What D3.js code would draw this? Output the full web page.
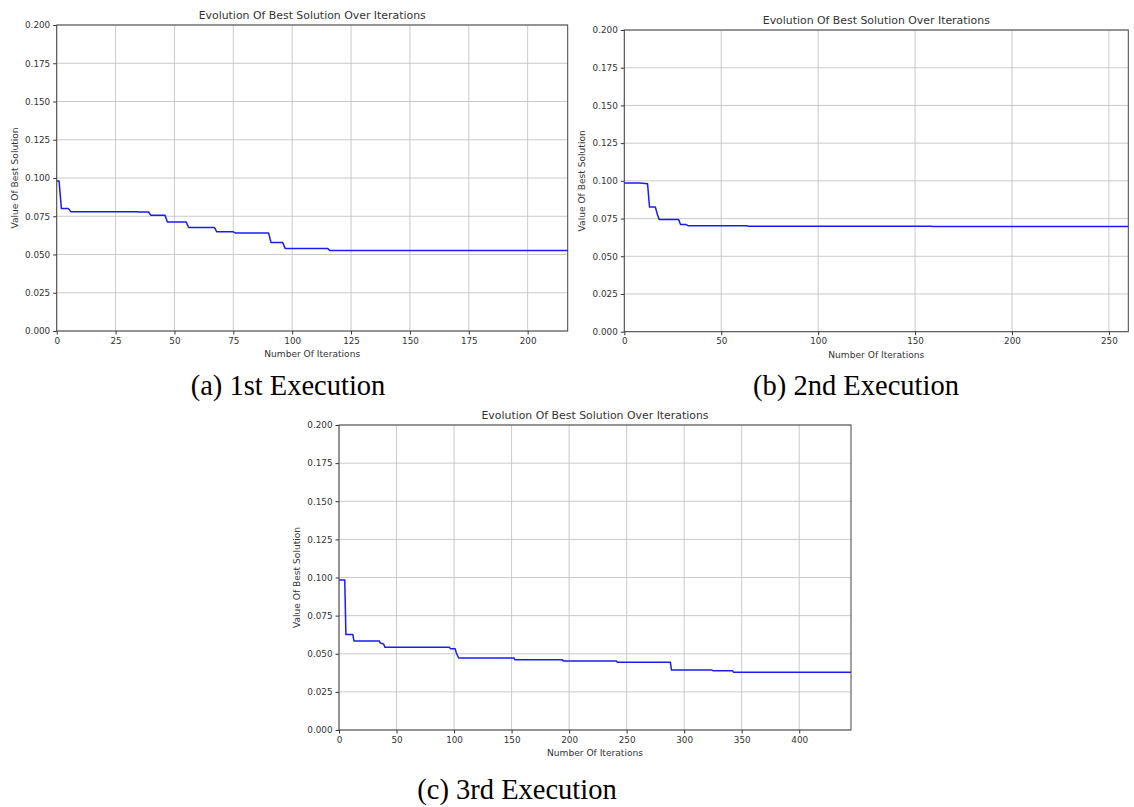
<!DOCTYPE html>
<html>
<head>
<meta charset="utf-8">
<script src="https://cdn.jsdelivr.net/npm/d3@7"></script>
<style>
  body { margin: 0; background: #fff; }
  svg { display: block; }
</style>
</head>
<body>
<svg id="chart" width="1134" height="807"></svg>
<script>
// ---- Data (vertices of the best-solution curve) ----
const iterA = [0, 1, 2, 5, 6, 34, 35, 39, 40, 46, 47, 55, 56, 67, 68, 75, 76, 90, 91, 96, 97, 115, 116, 217];
const valA  = [0.098, 0.098, 0.080, 0.080, 0.078, 0.078, 0.0778, 0.0778, 0.0756, 0.0756, 0.0712, 0.0712, 0.0676, 0.0676, 0.0648, 0.0648, 0.0640, 0.0640, 0.0578, 0.0578, 0.0540, 0.0540, 0.0526, 0.0526];

const iterB = [0, 8, 12, 13, 16, 17, 18, 28, 29, 32, 33, 63, 64, 158, 159, 260];
const valB  = [0.0985, 0.0985, 0.0980, 0.0827, 0.0827, 0.0780, 0.0743, 0.0743, 0.0710, 0.0710, 0.0702, 0.0702, 0.0699, 0.0699, 0.0697, 0.0697];

const iterC = [0, 5, 6, 12, 13, 35, 36, 38, 39, 40, 96, 97, 101, 102, 104, 152, 153, 194, 195, 241, 242, 288, 289, 324, 325, 342, 343, 445];
const valC  = [0.0984, 0.0984, 0.0627, 0.0627, 0.0584, 0.0584, 0.0570, 0.0566, 0.0560, 0.0542, 0.0542, 0.0532, 0.0532, 0.0505, 0.0472, 0.0472, 0.0460, 0.0460, 0.0453, 0.0453, 0.0444, 0.0444, 0.0393, 0.0393, 0.0389, 0.0389, 0.0378, 0.0378];

const yTicks = [0, 0.025, 0.05, 0.075, 0.1, 0.125, 0.15, 0.175, 0.2];
const xTicksA = [0, 25, 50, 75, 100, 125, 150, 175, 200];
const xTicksB = [0, 50, 100, 150, 200, 250];
const xTicksC = [0, 50, 100, 150, 200, 250, 300, 350, 400];

const titleText = "Evolution Of Best Solution Over Iterations";
const xLabelText = "Number Of Iterations";
const yLabelText = "Value Of Best Solution";
const captions = ["(a) 1st Execution", "(b) 2nd Execution", "(c) 3rd Execution"];

// ---- Drawing ----
const svg = d3.select("#chart");
const font = "DejaVu Sans, sans-serif";

function panel(cfg) {
  const { left, right, top, bottom, xMax, iters, vals, xTicks, caption, capX, capY } = cfg;
  const x = d3.scaleLinear().domain([0, xMax]).range([left, right]);
  const y = d3.scaleLinear().domain([0, 0.2]).range([bottom, top]);
  const g = svg.append("g");

  // grid
  g.append("g").selectAll("line").data(xTicks).join("line")
    .attr("x1", d => x(d)).attr("x2", d => x(d))
    .attr("y1", top).attr("y2", bottom)
    .attr("stroke", "#c4c4c4").attr("stroke-width", 0.9);
  g.append("g").selectAll("line").data(yTicks).join("line")
    .attr("x1", left).attr("x2", right)
    .attr("y1", d => y(d)).attr("y2", d => y(d))
    .attr("stroke", "#c4c4c4").attr("stroke-width", 0.9);

  // line
  const pts = iters.map((it, i) => [it, vals[i]]);
  g.append("path").datum(pts)
    .attr("fill", "none").attr("stroke", "#1a1aff").attr("stroke-width", 1.5)
    .attr("stroke-linejoin", "round")
    .attr("d", d3.line().x(d => x(d[0])).y(d => y(d[1])));

  // axes
  const xAxis = d3.axisBottom(x).tickValues(xTicks).tickFormat(d3.format("d")).tickSize(3.5).tickPadding(3);
  const yAxis = d3.axisLeft(y).tickValues(yTicks).tickFormat(d3.format(".3f")).tickSize(3.5).tickPadding(3);
  const gx = g.append("g").attr("transform", `translate(0,${bottom})`).call(xAxis);
  const gy = g.append("g").attr("transform", `translate(${left},0)`).call(yAxis);
  [gx, gy].forEach(a => {
    a.select(".domain").remove();
    a.selectAll("line").attr("stroke", "#333");
    a.selectAll("text").attr("font-family", font).attr("font-size", 8.8).attr("fill", "#333");
  });

  // frame
  g.append("rect").attr("x", left).attr("y", top)
    .attr("width", right - left).attr("height", bottom - top)
    .attr("fill", "none").attr("stroke", "#444").attr("stroke-width", 1);

  // title and labels
  g.append("text").attr("x", (left + right) / 2).attr("y", top - 6.5)
    .attr("text-anchor", "middle").attr("font-family", font).attr("font-size", 10.9).attr("fill", "#333")
    .text(titleText);
  g.append("text").attr("x", (left + right) / 2).attr("y", bottom + 26)
    .attr("text-anchor", "middle").attr("font-family", font).attr("font-size", 9.1).attr("fill", "#333")
    .text(xLabelText);
  g.append("text")
    .attr("transform", `translate(${left - 39},${(top + bottom) / 2}) rotate(-90)`)
    .attr("text-anchor", "middle").attr("font-family", font).attr("font-size", 9.1).attr("fill", "#333")
    .text(yLabelText);

  // caption
  svg.append("text").attr("x", capX).attr("y", capY)
    .attr("text-anchor", "middle").attr("font-family", "Liberation Serif, Times New Roman, serif")
    .attr("font-size", 28.5).attr("fill", "#000")
    .text(caption);
}

panel({ left: 56.7, right: 567.7, top: 25, bottom: 331, xMax: 217, iters: iterA, vals: valA,
        xTicks: xTicksA, caption: captions[0], capX: 288, capY: 395 });
panel({ left: 624.3, right: 1128.3, top: 30, bottom: 331.7, xMax: 260, iters: iterB, vals: valB,
        xTicks: xTicksB, caption: captions[1], capX: 856, capY: 395 });
panel({ left: 339, right: 851, top: 425, bottom: 730, xMax: 445, iters: iterC, vals: valC,
        xTicks: xTicksC, caption: captions[2], capX: 517, capY: 799 });
</script>
</body>
</html>
